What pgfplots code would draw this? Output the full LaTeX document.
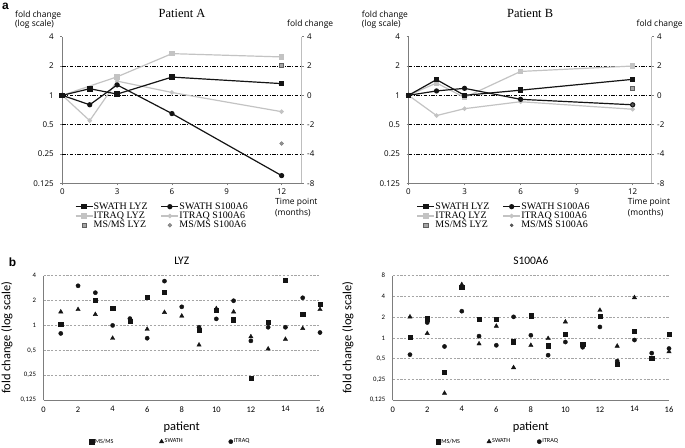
\documentclass[border=0pt]{standalone}
\usepackage{fontspec}
\setmainfont{Liberation Serif}
\newfontfamily\osans{Open Sans}
\newfontfamily\carl{Carlito}
\newfontfamily\tms{Liberation Serif}
\newfontfamily\lsans{Liberation Sans}
\usepackage{pgfplots}
\pgfplotsset{compat=1.18}

\definecolor{lgr}{RGB}{195,195,195}
\definecolor{axc}{RGB}{125,125,125}
\definecolor{axl}{RGB}{190,190,190}
\definecolor{msf}{RGB}{165,165,165}
\definecolor{msd}{RGB}{95,95,95}
\definecolor{gridc}{RGB}{165,165,165}
\definecolor{blk}{RGB}{20,20,20}

\begin{document}
\begin{tikzpicture}
\useasboundingbox (0,0) rectangle (685bp,-448bp);

% ---------------- Patient A ----------------
\begin{axis}[scale only axis, at={(62.3bp,-183.3bp)}, anchor=south west,
  width=239.4bp, height=146.6bp, xmin=0, xmax=13.1,
  ymode=log, log basis y=2, ymin=0.125, ymax=4,
  ytick={0.125,0.25,0.5,1,2,4}, yticklabels={0.125,0.25,0.5,1,2,4},
  xtick={0,3,6,9,12},
  axis x line*=bottom, axis y line*=left,
  axis line style={axc, line width=0.6bp},
  tick align=outside, major tick length=2bp, tick style={axc, line width=0.5bp},
  ticklabel style={font=\osans\fontsize{8}{9}\selectfont},
  yticklabel style={xshift=-3bp},
  /pgf/number format/assume math mode=true, clip=false,
  extra y ticks={0.25,0.5,1,2}, extra y tick labels={},
  extra y tick style={grid=major, major tick length=0pt},
  major grid style={black, line width=0.5bp, dash pattern=on 3.5bp off 1.5bp on 1bp off 1.5bp},
  title={Patient A},
  title style={at={(axis description cs:0.5,1.121)}, anchor=center, font=\tms\fontsize{12.5}{13}\selectfont},
  legend columns=2, legend cell align=left,
  legend style={at={(0.053,-0.1276)}, anchor=north west, draw=none, fill=none, inner sep=0pt, outer sep=0pt,
   font=\tms\fontsize{10}{10}\selectfont,
   nodes={inner sep=0.5bp, text height=6.8bp, text depth=1.5bp},
   /tikz/every even column/.append style={column sep=12.5bp}}]
\addplot[lgr, line width=1.2bp, mark=square*, mark size=2.1bp, mark options={solid}, forget plot] coordinates {(0,1) (3,1.55) (6,2.68) (12,2.48)};
\addplot[lgr, line width=1.2bp, mark=*, mark size=1.6bp, mark options={solid}, forget plot] coordinates {(0,1) (1.5,0.55) (3,1.40) (6,1.07) (12,0.68)};
\addplot[blk, line width=1.2bp, mark=square*, mark size=2.2bp, mark options={solid}] coordinates {(0,1) (1.5,1.17) (3,1.03) (6,1.54) (12,1.32)};
\addlegendentry{SWATH LYZ}
\addplot[blk, line width=1.2bp, mark=*, mark size=2bp, mark options={solid}] coordinates {(0,1) (1.5,0.80) (3,1.28) (6,0.65) (12,0.15)};
\addlegendentry{SWATH S100A6}
\addlegendimage{lgr, line width=1.2bp, mark=square*, mark size=2.1bp, mark options={solid}}
\addlegendentry{ITRAQ LYZ}
\addlegendimage{lgr, line width=1.2bp, mark=*, mark size=1.6bp, mark options={solid}}
\addlegendentry{ITRAQ S100A6}
\addplot[only marks, mark=square*, mark size=2.1bp, mark options={fill=msf, draw=msd, line width=0.6bp}] coordinates {(12,2.03)};
\addlegendentry{MS/MS LYZ}
\addplot[only marks, mark=*, mark size=1.9bp, mark options={fill=msf!90!black, draw=msd!80, line width=0.5bp}] coordinates {(12,0.32)};
\addlegendentry{MS/MS S100A6}
\end{axis}
\begin{axis}[scale only axis, at={(62.3bp,-183.3bp)}, anchor=south west,
  width=239.4bp, height=146.6bp, xmin=0, xmax=13.1,
  ymode=log, log basis y=2, ymin=0.125, ymax=4,
  ytick={0.125,0.25,0.5,1,2,4}, yticklabels={-8,-4,-2,0,2,4},
  axis x line=none, axis y line*=right,
  axis line style={axl, line width=0.6bp},
  tick align=outside, major tick length=2bp, tick style={axc, line width=0.5bp},
  ticklabel style={font=\osans\fontsize{8}{9}\selectfont}]
\end{axis}

% ---------------- Patient B ----------------
\begin{axis}[scale only axis, at={(408.5bp,-183.3bp)}, anchor=south west,
  width=243.2bp, height=146.6bp, xmin=0, xmax=13.02,
  ymode=log, log basis y=2, ymin=0.125, ymax=4,
  ytick={0.125,0.25,0.5,1,2,4}, yticklabels={0.125,0.25,0.5,1,2,4},
  xtick={0,3,6,9,12},
  axis x line*=bottom, axis y line*=left,
  axis line style={axc, line width=0.6bp},
  tick align=outside, major tick length=2bp, tick style={axc, line width=0.5bp},
  ticklabel style={font=\osans\fontsize{8}{9}\selectfont},
  yticklabel style={xshift=-3bp},
  /pgf/number format/assume math mode=true, clip=false,
  extra y ticks={0.25,0.5,1,2}, extra y tick labels={},
  extra y tick style={grid=major, major tick length=0pt},
  major grid style={black, line width=0.5bp, dash pattern=on 3.5bp off 1.5bp on 1bp off 1.5bp},
  title={Patient B},
  title style={at={(axis description cs:0.5,1.121)}, anchor=center, font=\tms\fontsize{12.5}{13}\selectfont},
  legend columns=2, legend cell align=left,
  legend style={at={(0.034,-0.1276)}, anchor=north west, draw=none, fill=none, inner sep=0pt, outer sep=0pt,
   font=\tms\fontsize{10}{10}\selectfont,
   nodes={inner sep=0.5bp, text height=6.8bp, text depth=1.5bp},
   /tikz/every even column/.append style={column sep=12.5bp}}]
\addplot[lgr, line width=1.2bp, mark=square*, mark size=2.1bp, mark options={solid}, forget plot] coordinates {(0,1) (1.5,1.34) (3,0.95) (6,1.76) (12,2.0)};
\addplot[lgr, line width=1.2bp, mark=*, mark size=1.6bp, mark options={solid}, forget plot] coordinates {(0,1) (1.5,0.62) (3,0.73) (6,0.86) (12,0.72)};
\addplot[blk, line width=1.2bp, mark=square*, mark size=2.2bp, mark options={solid}] coordinates {(0,1) (1.5,1.45) (3,1.0) (6,1.13) (12,1.46)};
\addlegendentry{SWATH LYZ}
\addplot[blk, line width=1.2bp, mark=*, mark size=2bp, mark options={solid}] coordinates {(0,1) (1.5,1.11) (3,1.18) (6,0.91) (12,0.80)};
\addlegendentry{SWATH S100A6}
\addlegendimage{lgr, line width=1.2bp, mark=square*, mark size=2.1bp, mark options={solid}}
\addlegendentry{ITRAQ LYZ}
\addlegendimage{lgr, line width=1.2bp, mark=*, mark size=1.6bp, mark options={solid}}
\addlegendentry{ITRAQ S100A6}
\addplot[only marks, mark=square*, mark size=2.1bp, mark options={fill=msf, draw=msd, line width=0.6bp}] coordinates {(12,1.18)};
\addlegendentry{MS/MS LYZ}
\addplot[only marks, mark=*, mark size=1.5bp, mark options={fill=msd, draw=msd!70!black, line width=0.5bp}] coordinates {(12,0.80)};
\addlegendentry{MS/MS S100A6}
\end{axis}
\begin{axis}[scale only axis, at={(408.5bp,-183.3bp)}, anchor=south west,
  width=243.2bp, height=146.6bp, xmin=0, xmax=13.02,
  ymode=log, log basis y=2, ymin=0.125, ymax=4,
  ytick={0.125,0.25,0.5,1,2,4}, yticklabels={-8,-4,-2,0,2,4},
  axis x line=none, axis y line*=right,
  axis line style={axl, line width=0.6bp},
  tick align=outside, major tick length=2bp, tick style={axc, line width=0.5bp},
  ticklabel style={font=\osans\fontsize{8}{9}\selectfont}]
\end{axis}

% top texts
\node[anchor=west, font=\osans\fontsize{8.5}{10}\selectfont, inner sep=0pt] at (15bp,-15bp) {fold change};
\node[anchor=west, font=\osans\fontsize{8.5}{10}\selectfont, inner sep=0pt] at (15bp,-24.3bp) {(log scale)};
\node[anchor=west, font=\osans\fontsize{8.5}{10}\selectfont, inner sep=0pt] at (287bp,-24bp) {fold change};
\node[anchor=west, font=\osans\fontsize{8.5}{10}\selectfont, inner sep=0pt] at (361.7bp,-15bp) {fold change};
\node[anchor=west, font=\osans\fontsize{8.5}{10}\selectfont, inner sep=0pt] at (361.7bp,-24.3bp) {(log scale)};
\node[anchor=west, font=\osans\fontsize{8.5}{10}\selectfont, inner sep=0pt] at (636.5bp,-24bp) {fold change};
\node[anchor=west, font=\osans\fontsize{8.5}{9}\selectfont, inner sep=0pt] at (275bp,-202bp) {Time point};
\node[anchor=west, font=\osans\fontsize{8.5}{9}\selectfont, inner sep=0pt] at (275bp,-213bp) {(months)};
\node[anchor=west, font=\osans\fontsize{8.5}{9}\selectfont, inner sep=0pt] at (627.7bp,-202bp) {Time point};
\node[anchor=west, font=\osans\fontsize{8.5}{9}\selectfont, inner sep=0pt] at (627.7bp,-213bp) {(months)};
\node[font=\lsans\bfseries\fontsize{12}{12}\selectfont, inner sep=0pt] at (5.5bp,-6bp) {a};
\node[font=\lsans\bfseries\fontsize{12}{12}\selectfont, inner sep=0pt] at (12.5bp,-262bp) {b};

% ---------------- LYZ ----------------
\begin{axis}[scale only axis, at={(43.5bp,-400bp)}, anchor=south west,
  width=276.5bp, height=124.3bp, xmin=0, xmax=16,
  ymode=log, log basis y=2, ymin=0.125, ymax=4,
  ytick={0.125,0.25,0.5,1,2,4}, yticklabels={{0,125},{0,25},{0,5},1,2,4},
  xtick={0,2,...,16},
  axis x line*=bottom, axis y line*=left, axis line style={axc, line width=0.7bp},
  major tick length=0pt, ymajorgrids,
  major grid style={gridc, line width=0.6bp, dash pattern=on 2.2bp off 1.6bp},
  xticklabel style={font=\carl\fontsize{8.5}{9}\selectfont, yshift=-3bp},
  yticklabel style={font=\carl\fontsize{6.8}{7}\selectfont, xshift=-4bp},
  /pgf/number format/assume math mode=true, clip=false,
  xlabel={patient}, ylabel={fold change (log scale)},
  label style={font=\carl\fontsize{12.5}{13}\selectfont},
  xlabel style={at={(axis description cs:0.5,-0.215)}, anchor=center},
  ylabel style={at={(axis description cs:-0.132,0.5)}, anchor=center},
  title={LYZ},
  title style={font=\carl\fontsize{11.5}{12}\selectfont, at={(axis description cs:0.5,1.072)}, anchor=center},
  legend columns=3,
  legend style={at={(0.1667,-0.335)}, anchor=west, draw=none, fill=none, inner sep=0pt, outer sep=0pt,
     font=\carl\fontsize{6.2}{7}\selectfont, nodes={inner sep=1bp},
     /tikz/every even column/.append style={column sep=45bp}}]
\addplot[only marks, mark=square*, blk, mark size=2.1bp] coordinates {(1,1.03) (3,2.02) (4,1.6) (5,1.13) (6,2.22) (7,2.55) (9,0.88) (10,1.52) (11,1.17) (12,0.23) (13,1.09) (14,3.54) (15,1.36) (16,1.8)};
\addlegendentry{MS/MS}
\addplot[only marks, mark=triangle*, blk, mark size=2.5bp] coordinates {(1,1.46) (2,1.56) (3,1.36) (4,0.70) (6,0.90) (7,1.44) (8,1.30) (9,0.58) (10,1.6) (11,1.46) (12,0.73) (13,0.52) (14,0.68) (15,0.92) (16,1.56)};
\addlegendentry{SWATH}
\addplot[only marks, mark=*, blk, mark size=2.1bp] coordinates {(1,0.80) (2,3.02) (3,2.49) (4,1.0) (5,1.21) (6,0.70) (7,3.44) (8,1.68) (9,0.95) (10,1.2) (11,1.99) (12,0.65) (13,0.95) (14,0.95) (15,2.16) (16,0.82)};
\addlegendentry{ITRAQ}
\end{axis}

% ---------------- S100A6 ----------------
\begin{axis}[scale only axis, at={(392.7bp,-400bp)}, anchor=south west,
  width=276.3bp, height=124.3bp, xmin=0, xmax=16,
  ymode=log, log basis y=2, ymin=0.125, ymax=8,
  ytick={0.125,0.25,0.5,1,2,4,8}, yticklabels={{0,125},{0,25},{0,5},1,2,4,8},
  xtick={0,2,...,16},
  axis x line*=bottom, axis y line*=left, axis line style={axc, line width=0.7bp},
  major tick length=0pt, ymajorgrids,
  major grid style={gridc, line width=0.6bp, dash pattern=on 2.2bp off 1.6bp},
  xticklabel style={font=\carl\fontsize{8.5}{9}\selectfont, yshift=-3bp},
  yticklabel style={font=\carl\fontsize{6.8}{7}\selectfont, xshift=-4bp},
  /pgf/number format/assume math mode=true, clip=false,
  xlabel={patient}, ylabel={fold change (log scale)},
  label style={font=\carl\fontsize{12.5}{13}\selectfont},
  xlabel style={at={(axis description cs:0.5,-0.215)}, anchor=center},
  ylabel style={at={(axis description cs:-0.162,0.5)}, anchor=center},
  title={S100A6},
  title style={font=\carl\fontsize{11.5}{12}\selectfont, at={(axis description cs:0.5,1.072)}, anchor=center},
  legend columns=3,
  legend style={at={(0.157,-0.335)}, anchor=west, draw=none, fill=none, inner sep=0pt, outer sep=0pt,
     font=\carl\fontsize{6.2}{7}\selectfont, nodes={inner sep=1bp},
     /tikz/every even column/.append style={column sep=26bp}}]
\addplot[only marks, mark=square*, blk, mark size=2.1bp] coordinates {(1,1.02) (2,1.9) (3,0.32) (4,5.4) (5,1.87) (6,1.87) (7,0.88) (8,2.1) (9,0.77) (10,1.13) (11,0.80) (12,2.06) (13,0.41) (14,1.25) (15,0.5) (16,1.13)};
\addlegendentry{MS/MS}
\addplot[only marks, mark=triangle*, blk, mark size=2.5bp] coordinates {(1,2.02) (2,1.16) (3,0.157) (4,5.95) (5,0.82) (6,1.48) (7,0.37) (8,0.78) (9,0.98) (10,1.71) (12,2.52) (13,0.76) (14,3.85) (16,0.63)};
\addlegendentry{SWATH}
\addplot[only marks, mark=*, blk, mark size=2.1bp] coordinates {(1,0.57) (2,1.67) (3,0.75) (4,2.44) (5,1.06) (6,0.78) (7,2.02) (8,1.09) (9,0.56) (10,0.87) (11,0.73) (12,1.44) (13,0.46) (14,0.93) (15,0.6) (16,0.70)};
\addlegendentry{ITRAQ}
\end{axis}
\end{tikzpicture}
\end{document}
